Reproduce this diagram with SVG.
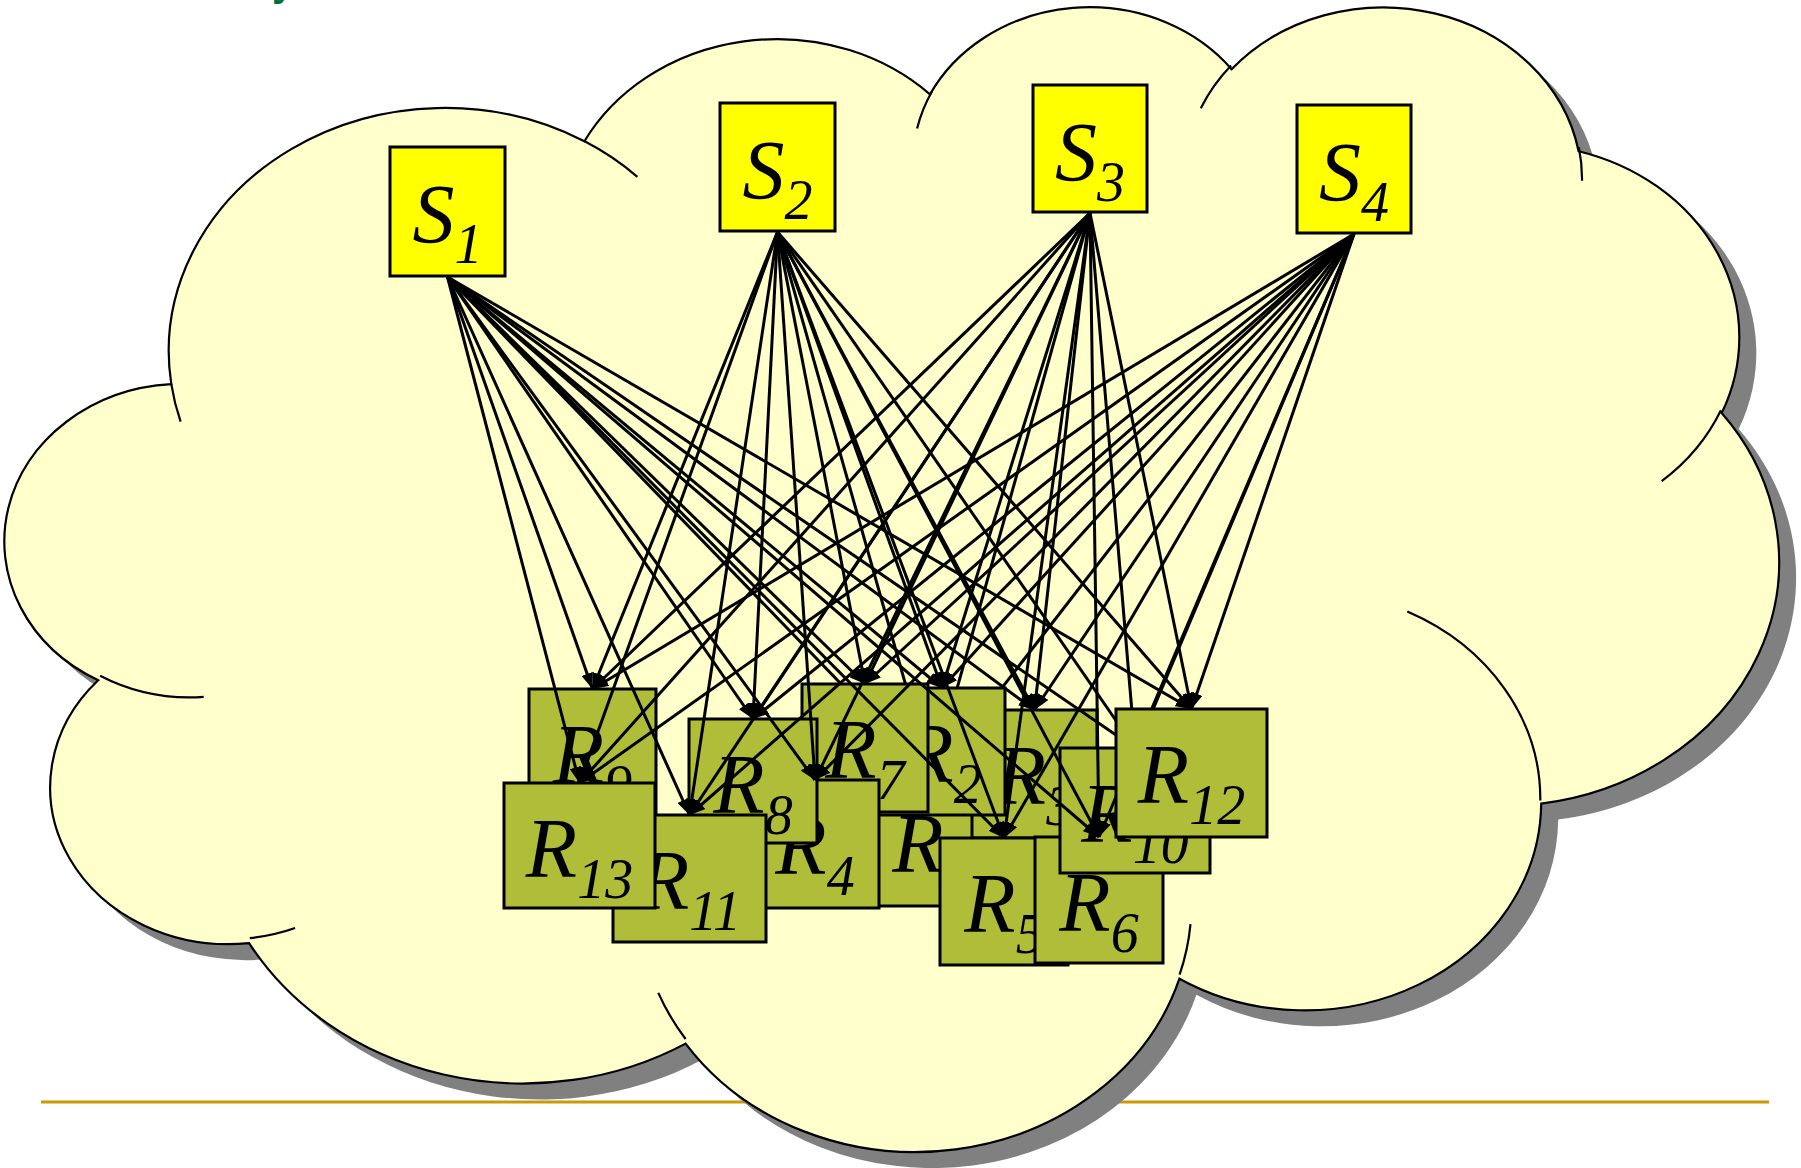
<svg xmlns="http://www.w3.org/2000/svg" xmlns:xlink="http://www.w3.org/1999/xlink" width="1801" height="1168" viewBox="0 0 1801 1168">
<style>
.box rect{stroke:#000;stroke-width:3}
.s rect{fill:#FFFF00}
.r rect{fill:#AFBD38}
.lbl{font-family:'Liberation Serif','Times New Roman',serif;font-style:italic;font-size:84px;text-anchor:middle;fill:#000}
.sub{font-size:56px}
.conn line{stroke:#000;stroke-width:3;marker-end:url(#ah)}
.rib{fill:none;stroke:#000;stroke-width:2.2}
</style>
<defs>
<marker id="ah" viewBox="0 0 16 12" refX="16" refY="6" markerWidth="16" markerHeight="12" markerUnits="userSpaceOnUse" orient="auto"><path d="M0,0 L16,6 L0,12 Z" fill="#000"/></marker>
<path id="cloudShape" d="M171.3,384.2 A276.1,243.4 0 0 1 584.4,141.3 A218.1,192.5 0 0 1 930,94.4 A178.5,157.5 0 0 1 1231.6,69.2 A198.6,174.7 0 0 1 1578.6,151.2 A218.1,192.7 0 0 1 1721.7,413 A277,244.2 0 0 1 1541.2,803.6 A236.5,208.4 0 0 1 1179.4,978.7 A276.1,244.1 0 0 1 685.6,1043.6 A315.7,279.3 0 0 1 249.1,943.1 A178.3,156.8 0 0 1 98.2,680.3 A177.7,157.5 0 0 1 171.3,384.2 Z"/>
</defs>
<rect width="1801" height="1168" fill="#fff"/>
<line x1="41" y1="1102" x2="1769" y2="1102" stroke="#CC9900" stroke-width="3"/>
<text x="272" y="-4" font-family="'Liberation Sans',Arial,sans-serif" font-weight="bold" font-size="40" fill="#00703C">y</text>
<g id="cloud">
<use xlink:href="#cloudShape" href="#cloudShape" transform="translate(17,16)" fill="#808080"/>
<use xlink:href="#cloudShape" href="#cloudShape" fill="#FFFFCC" stroke="#000" stroke-width="2.2"/>
<path class="rib" d="M203.7,696.9 A177.7,157.5 0 0 1 100.1,675.8 M295.1,928 A178.3,156.8 0 0 1 249.8,938.1 M685.6,1039 A276.1,244.1 0 0 1 658.3,992.9 M1190.5,924.1 A276.1,244.1 0 0 1 1179.6,974.6 M1407.3,611.6 A236.5,208.4 0 0 1 1540.3,800.6 M1720.9,410.2 A218.1,192.7 0 0 1 1661.7,481.1 M1578.8,147.2 A198.6,174.7 0 0 1 1582,180.7 M1200.8,108.2 A198.6,174.7 0 0 1 1231.1,65.5 M917.1,128.5 A178.5,157.5 0 0 1 931.8,91.7 M584.2,141 A276.1,243.4 0 0 1 637.4,176.8 M180.6,421.7 A276.1,243.4 0 0 1 171.3,384.2"/>
</g>
<g id="S1" class="box s"><rect x="390" y="147" width="115" height="129"/><text class="lbl" x="447.5" y="243">S<tspan class="sub" dy="20">1</tspan></text></g>
<g id="S2" class="box s"><rect x="720" y="103" width="115" height="128"/><text class="lbl" x="777.5" y="199">S<tspan class="sub" dy="20">2</tspan></text></g>
<g id="S3" class="box s"><rect x="1033" y="85" width="114" height="127"/><text class="lbl" x="1090" y="181">S<tspan class="sub" dy="20">3</tspan></text></g>
<g id="S4" class="box s"><rect x="1297" y="105" width="114" height="128"/><text class="lbl" x="1354" y="201">S<tspan class="sub" dy="20">4</tspan></text></g>
<g id="R1" class="box r"><rect x="878" y="778" width="108" height="128"/><text class="lbl" x="932" y="872">R<tspan class="sub" dy="21">1</tspan></text></g>
<g id="connectors-R1" class="conn">
<line x1="447.5" y1="277" x2="932" y2="778"/>
<line x1="777.5" y1="232" x2="932" y2="778"/>
<line x1="1090" y1="213" x2="932" y2="778"/>
<line x1="1354" y1="234" x2="932" y2="778"/>
</g>
<g id="R3" class="box r"><rect x="972" y="710" width="125" height="128"/><text class="lbl" x="1034.5" y="804">R<tspan class="sub" dy="21">3</tspan></text></g>
<g id="R2" class="box r"><rect x="879" y="688" width="126" height="127"/><text class="lbl" x="942" y="782">R<tspan class="sub" dy="21">2</tspan></text></g>
<g id="R7" class="box r"><rect x="802" y="684" width="126" height="128"/><text class="lbl" x="865" y="778">R<tspan class="sub" dy="21">7</tspan></text></g>
<g id="R4" class="box r"><rect x="751" y="780" width="128" height="128"/><text class="lbl" x="815" y="874">R<tspan class="sub" dy="21">4</tspan></text></g>
<g id="R8" class="box r"><rect x="689" y="719" width="128" height="124"/><text class="lbl" x="753" y="813">R<tspan class="sub" dy="21">8</tspan></text></g>
<g id="R9" class="box r"><rect x="529" y="689" width="127" height="127"/><text class="lbl" x="592.5" y="783">R<tspan class="sub" dy="21">9</tspan></text></g>
<g id="R5" class="box r"><rect x="940" y="838" width="128" height="127"/><text class="lbl" x="1004" y="932">R<tspan class="sub" dy="21">5</tspan></text></g>
<g id="R6" class="box r"><rect x="1035" y="837" width="128" height="126"/><text class="lbl" x="1099" y="931">R<tspan class="sub" dy="21">6</tspan></text></g>
<g id="R10" class="box r"><rect x="1060" y="748" width="150" height="125"/><text class="lbl" x="1135" y="842">R<tspan class="sub" dy="21">10</tspan></text></g>
<g id="connectors" class="conn">
<line x1="447.5" y1="277" x2="942" y2="688"/>
<line x1="447.5" y1="277" x2="1034.5" y2="710"/>
<line x1="447.5" y1="277" x2="815" y2="780"/>
<line x1="447.5" y1="277" x2="1004" y2="838"/>
<line x1="447.5" y1="277" x2="1099" y2="837"/>
<line x1="447.5" y1="277" x2="865" y2="684"/>
<line x1="447.5" y1="277" x2="753" y2="719"/>
<line x1="447.5" y1="277" x2="592.5" y2="689"/>
<line x1="447.5" y1="277" x2="1135" y2="748"/>
<line x1="447.5" y1="277" x2="689.5" y2="815"/>
<line x1="447.5" y1="277" x2="1191.5" y2="709"/>
<line x1="447.5" y1="277" x2="579.5" y2="783"/>
<line x1="777.5" y1="232" x2="942" y2="688"/>
<line x1="777.5" y1="232" x2="1034.5" y2="710"/>
<line x1="777.5" y1="232" x2="815" y2="780"/>
<line x1="777.5" y1="232" x2="1004" y2="838"/>
<line x1="777.5" y1="232" x2="1099" y2="837"/>
<line x1="777.5" y1="232" x2="865" y2="684"/>
<line x1="777.5" y1="232" x2="753" y2="719"/>
<line x1="777.5" y1="232" x2="592.5" y2="689"/>
<line x1="777.5" y1="232" x2="1135" y2="748"/>
<line x1="777.5" y1="232" x2="689.5" y2="815"/>
<line x1="777.5" y1="232" x2="1191.5" y2="709"/>
<line x1="777.5" y1="232" x2="579.5" y2="783"/>
<line x1="1090" y1="213" x2="942" y2="688"/>
<line x1="1090" y1="213" x2="1034.5" y2="710"/>
<line x1="1090" y1="213" x2="815" y2="780"/>
<line x1="1090" y1="213" x2="1004" y2="838"/>
<line x1="1090" y1="213" x2="1099" y2="837"/>
<line x1="1090" y1="213" x2="865" y2="684"/>
<line x1="1090" y1="213" x2="753" y2="719"/>
<line x1="1090" y1="213" x2="592.5" y2="689"/>
<line x1="1090" y1="213" x2="1135" y2="748"/>
<line x1="1090" y1="213" x2="689.5" y2="815"/>
<line x1="1090" y1="213" x2="1191.5" y2="709"/>
<line x1="1090" y1="213" x2="579.5" y2="783"/>
<line x1="1354" y1="234" x2="942" y2="688"/>
<line x1="1354" y1="234" x2="1034.5" y2="710"/>
<line x1="1354" y1="234" x2="815" y2="780"/>
<line x1="1354" y1="234" x2="1004" y2="838"/>
<line x1="1354" y1="234" x2="1099" y2="837"/>
<line x1="1354" y1="234" x2="865" y2="684"/>
<line x1="1354" y1="234" x2="753" y2="719"/>
<line x1="1354" y1="234" x2="592.5" y2="689"/>
<line x1="1354" y1="234" x2="1135" y2="748"/>
<line x1="1354" y1="234" x2="689.5" y2="815"/>
<line x1="1354" y1="234" x2="1191.5" y2="709"/>
<line x1="1354" y1="234" x2="579.5" y2="783"/>
</g>
<g id="R12" class="box r"><rect x="1116" y="709" width="151" height="128"/><text class="lbl" x="1191.5" y="803">R<tspan class="sub" dy="21">12</tspan></text></g>
<g id="R11" class="box r"><rect x="613" y="815" width="153" height="127"/><text class="lbl" x="689.5" y="909">R<tspan class="sub" dy="21">11</tspan></text></g>
<g id="R13" class="box r"><rect x="504" y="783" width="151" height="125"/><text class="lbl" x="579.5" y="877">R<tspan class="sub" dy="21">13</tspan></text></g>
</svg>
